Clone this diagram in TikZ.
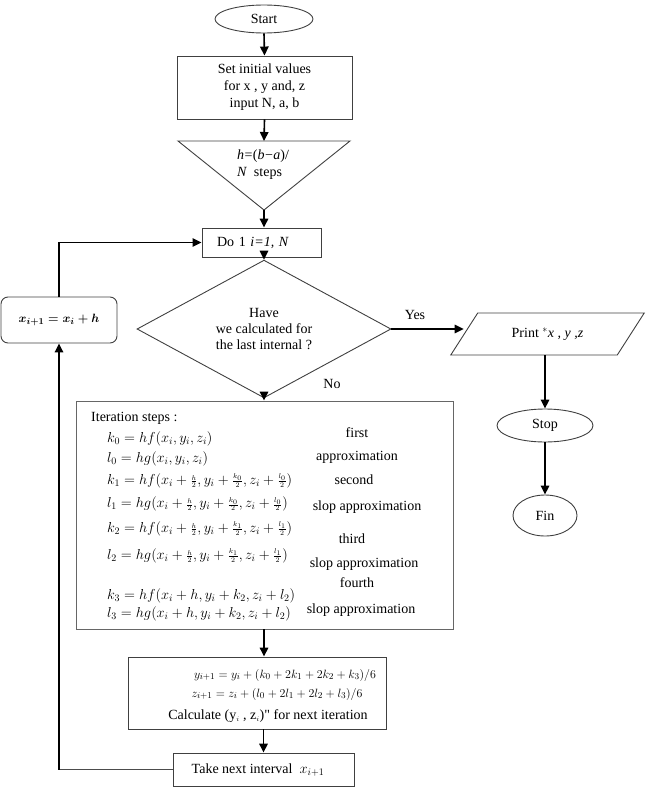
\documentclass[tikz,border=0pt]{standalone}
\usepackage{fontspec}
\setmainfont{Liberation Serif}
\newfontfamily\plainq{Liberation Serif}
\usetikzlibrary{shapes.geometric,arrows.meta}
\newcommand{\sfr}[2]{{\scriptstyle\frac{#1}{#2}}}
\begin{document}
\begin{tikzpicture}[x=1pt,y=-1pt,
  every node/.style={font=\fontsize{14}{17}\selectfont},
  box/.style={draw=black!75, line width=0.9pt, inner sep=0pt},
  arr/.style={line width=1.6pt, -{Triangle[length=9pt,width=8.5pt]}},
  thinarr/.style={line width=1.3pt, -{Triangle[length=9pt,width=8.5pt]}},
  lnk/.style={line width=0.9pt, draw=black!70},
  fml/.style={anchor=base west, inner sep=0pt},
  side/.style={inner sep=0pt},
  small/.style={font=\fontsize{12.5}{14}\selectfont, inner sep=0pt}
]
\useasboundingbox (0,0) rectangle (646,787);

% main column
\node[box, ellipse, minimum width=98pt, minimum height=28pt] (start) at (264,19) {Start};
\node[box, minimum width=175pt, minimum height=63pt, align=center] (init) at (264.5,87.5) {Set initial values\\for x , y and, z\\input N, a, b};
\coordinate (triTop) at (264,141);
\coordinate (triApex) at (264,210);
\draw[box] (178,141) -- (350,141) -- (triApex) -- cycle;
\node[align=left, inner sep=0pt] (hstep) at (263,165) {\textit{h}\kern0.5pt=\kern0.5pt(\textit{b}\kern0.5pt−\kern0.5pt\textit{a})/\\\textit{N}\ \ steps};

\node[box, text width=89pt, inner xsep=15pt, minimum height=29pt, align=left] (do) at (261.5,242.5) {Do 1 \textit{i=1, N}};
\node[box, diamond, minimum width=254pt, minimum height=106pt, align=center, font=\fontsize{14}{16}\selectfont] (dec) at (264,329) {Have\\we calculated for\\the last internal ?};

\node[box, draw=black!60, minimum width=377pt, minimum height=228pt] (iter) at (264.5,515) {};
\node[anchor=west, inner sep=0pt] (its) at (91,418) {Iteration steps :};
\node[fml] (f0) at (107,442) {$k_0 = hf(x_i, y_i, z_i)$};
\node[fml] (f1) at (107,462) {$l_0 = hg(x_i, y_i, z_i)$};
\node[fml] (f2) at (107,484) {$k_1 = hf(x_i + \sfr{h}{2}, y_i + \sfr{k_0}{2}, z_i + \sfr{l_0}{2})$};
\node[fml] (f3) at (107,507.5) {$l_1 = hg(x_i + \sfr{h}{2}, y_i + \sfr{k_0}{2}, z_i + \sfr{l_0}{2})$};
\node[fml] (f4) at (107,532) {$k_2 = hf(x_i + \sfr{h}{2}, y_i + \sfr{k_1}{2}, z_i + \sfr{l_1}{2})$};
\node[fml] (f5) at (107,559) {$l_2 = hg(x_i + \sfr{h}{2}, y_i + \sfr{k_1}{2}, z_i + \sfr{l_1}{2})$};
\node[fml] (f6) at (107,599) {$k_3 = hf(x_i + h, y_i + k_2, z_i + l_2)$};
\node[fml] (f7) at (107,617.5) {$l_3 = hg(x_i + h, y_i + k_2, z_i + l_2)$};
\node[side] (s0) at (357,433) {first};
\node[side] (s1) at (357,457) {approximation};
\node[side] (s2) at (354,480) {second};
\node[side] (s3) at (367,507) {slop approximation};
\node[side] (s4) at (352,539) {third};
\node[side] (s5) at (364,564) {slop approximation};
\node[side] (s6) at (357,583) {fourth};
\node[side] (s7) at (361,610) {slop approximation};

\node[box, minimum width=258pt, minimum height=72pt] (yb) at (257,693) {};
\node[small] (y1) at (285,675) {$y_{i+1} = y_i + (k_0 + 2k_1 + 2k_2 + k_3)/6$};
\node[small] (y2) at (277,694) {$z_{i+1} = z_i + (l_0 + 2l_1 + 2l_2 + l_3)/6$};
\node[inner sep=0pt] (y3) at (268,716) {Calculate (y$_{\scriptscriptstyle i}$ , z$_{\scriptscriptstyle i}$){\plainq "} for next iteration};

\node[box, minimum width=181pt, minimum height=33pt] (take) at (263.5,769.5) {};
\node[inner sep=0pt] (takel) at (258,770) {Take next interval\ \ $x_{i+1}$};

% loop box
\node[box, rounded corners=7pt, minimum width=116pt, minimum height=46pt, font=\fontsize{12.5}{15}\selectfont\boldmath] (xb) at (59,320) {$x_{i+1} = x_i + h$};
\coordinate (lc) at (59,769.5);

% right column
\node[box, trapezium, trapezium left angle=43, trapezium right angle=137, trapezium stretches=true, minimum width=195pt, minimum height=42pt] (print) at (547.5,334) {Print $^*$\textit{x , y ,z}};
\node[box, ellipse, minimum width=96pt, minimum height=33pt] (stop) at (545,425.5) {Stop};
\node[box, ellipse, minimum width=64pt, minimum height=41pt] (fin) at (545,515.5) {Fin};

\node (yes) at (415,315) {Yes};
\node (no) at (332,384) {No};

% connectors
\draw[arr] (start.south) -- (init.north);
\draw[arr] (init.south) -- (triTop);
\draw[arr] (triApex) -- (triApex |- do.north);
\draw[arr] (dec.north |- do.south) -- (dec.north);
\draw[arr] (dec.south) -- (dec.south |- iter.north);
\draw[arr] (dec.south |- iter.south) -- (dec.south |- yb.north);
\draw[arr] (take.north |- yb.south) -- (take.north);
\draw[lnk] (take.west) -- (lc);
\draw[arr] (lc) -- (xb.south);
\draw[thinarr] (xb.north) |- (do.west);
\draw[arr] (dec.east) -- (dec.east -| print.west);
\draw[arr] (print.south -| stop.north) -- (stop.north);
\draw[arr] (stop.south) -- (fin.north);
\end{tikzpicture}
\end{document}
